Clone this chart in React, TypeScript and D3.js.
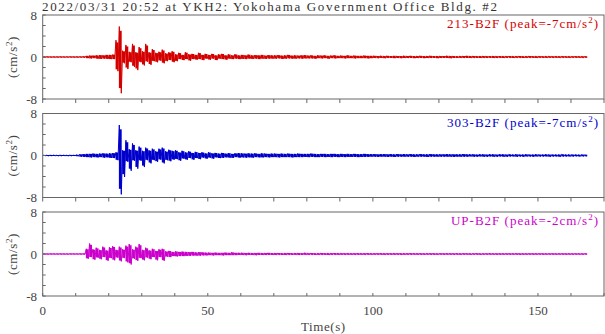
import React from 'react'
import * as d3 from 'd3'

// Envelope of each trace, one pair per second (t = 0 .. 164 s)
const redHi = [
  0.05, 0.05, 0.04, 0.05, 0.05, 0.06, 0.05, 0.05, 0.06, 0.05,
  0.06, 0.06, 0.08, 0.2, 0.25, 0.25, 0.3, 0.35, 0.3, 0.4,
  0.4, 0.45, 3.2, 5.8, 1.2, 2.3, 1.0, 2.5, 0.9, 1.9,
  1.1, 2.5, 0.9, 1.5, 0.8, 1.0, 1.4, 0.7, 0.9, 1.1,
  0.5, 0.8, 0.4, 0.9, 0.5, 0.6, 0.4, 0.8, 0.4, 0.6,
  0.4, 0.6, 0.3, 0.5, 0.6, 0.3, 0.5, 0.3, 0.5, 0.3,
  0.4, 0.3, 0.45, 0.3, 0.35, 0.3, 0.4, 0.25, 0.35, 0.3,
  0.3, 0.35, 0.25, 0.3, 0.4, 0.25, 0.3, 0.25, 0.3, 0.35,
  0.25, 0.3, 0.2, 0.3, 0.25, 0.3, 0.2, 0.25, 0.3, 0.2,
  0.25, 0.2, 0.3, 0.2, 0.25, 0.2, 0.2, 0.25, 0.2, 0.2,
  0.2, 0.15, 0.2, 0.15, 0.2, 0.15, 0.2, 0.15, 0.15, 0.2,
  0.15, 0.2, 0.15, 0.15, 0.2, 0.15, 0.15, 0.2, 0.15, 0.15,
  0.15, 0.15, 0.2, 0.15, 0.15, 0.12, 0.15, 0.15, 0.2, 0.15,
  0.15, 0.12, 0.15, 0.15, 0.12, 0.15, 0.15, 0.12, 0.15, 0.12,
  0.12, 0.15, 0.12, 0.12, 0.15, 0.12, 0.12, 0.15, 0.12, 0.12,
  0.12, 0.1, 0.12, 0.12, 0.1, 0.12, 0.1, 0.12, 0.1, 0.1,
  0.1, 0.12, 0.1, 0.1, 0.1,
]
const redLo = [
  -0.05, -0.04, -0.05, -0.05, -0.06, -0.05, -0.05, -0.05, -0.05, -0.06,
  -0.06, -0.06, -0.08, -0.2, -0.25, -0.2, -0.3, -0.35, -0.3, -0.35,
  -0.4, -0.4, -2.7, -6.9, -1.2, -2.3, -1.0, -1.9, -2.5, -1.0,
  -1.6, -0.9, -1.5, -0.8, -1.0, -0.7, -1.2, -0.8, -0.6, -1.0,
  -0.8, -0.4, -0.6, -0.4, -0.7, -0.4, -0.5, -0.4, -0.6, -0.3,
  -0.5, -0.3, -0.6, -0.3, -0.4, -0.5, -0.3, -0.4, -0.3, -0.4,
  -0.35, -0.4, -0.3, -0.35, -0.3, -0.4, -0.3, -0.35, -0.3, -0.3,
  -0.3, -0.25, -0.35, -0.3, -0.25, -0.3, -0.3, -0.25, -0.3, -0.25,
  -0.25, -0.25, -0.3, -0.2, -0.25, -0.2, -0.3, -0.2, -0.25, -0.2,
  -0.2, -0.25, -0.2, -0.2, -0.25, -0.2, -0.2, -0.2, -0.25, -0.2,
  -0.15, -0.2, -0.15, -0.2, -0.15, -0.15, -0.2, -0.15, -0.2, -0.15,
  -0.15, -0.15, -0.2, -0.15, -0.15, -0.2, -0.15, -0.15, -0.15, -0.2,
  -0.15, -0.15, -0.15, -0.2, -0.15, -0.15, -0.12, -0.15, -0.15, -0.15,
  -0.12, -0.15, -0.15, -0.12, -0.15, -0.12, -0.15, -0.15, -0.12, -0.15,
  -0.12, -0.12, -0.15, -0.12, -0.12, -0.15, -0.12, -0.12, -0.12, -0.15,
  -0.1, -0.12, -0.12, -0.1, -0.12, -0.1, -0.12, -0.1, -0.1, -0.12,
  -0.1, -0.1, -0.1, -0.12, -0.1,
]

const blueHi = [
  0.06, 0.05, 0.06, 0.06, 0.05, 0.06, 0.06, 0.05, 0.06, 0.06,
  0.1, 0.2, 0.25, 0.3, 0.3, 0.35, 0.3, 0.35, 0.4, 0.35,
  0.4, 0.45, 0.6, 5.8, 1.0, 2.9, 1.2, 2.3, 1.0, 1.7,
  0.9, 1.5, 1.0, 1.3, 0.8, 1.3, 1.5, 0.8, 1.1, 0.9,
  1.0, 0.6, 0.9, 0.6, 0.8, 0.5, 0.7, 0.5, 0.6, 0.4,
  0.6, 0.4, 0.5, 0.35, 0.5, 0.35, 0.45, 0.3, 0.4, 0.45,
  0.4, 0.35, 0.4, 0.35, 0.4, 0.3, 0.4, 0.35, 0.3, 0.35,
  0.35, 0.3, 0.35, 0.3, 0.35, 0.3, 0.3, 0.35, 0.3, 0.3,
  0.3, 0.35, 0.3, 0.25, 0.3, 0.3, 0.25, 0.3, 0.3, 0.25,
  0.3, 0.25, 0.3, 0.25, 0.3, 0.25, 0.25, 0.3, 0.25, 0.25,
  0.25, 0.2, 0.25, 0.25, 0.2, 0.25, 0.2, 0.25, 0.2, 0.25,
  0.2, 0.25, 0.2, 0.2, 0.25, 0.2, 0.2, 0.25, 0.2, 0.2,
  0.2, 0.2, 0.25, 0.2, 0.2, 0.2, 0.2, 0.25, 0.2, 0.2,
  0.2, 0.15, 0.2, 0.2, 0.15, 0.2, 0.2, 0.15, 0.2, 0.2,
  0.15, 0.2, 0.15, 0.2, 0.15, 0.15, 0.2, 0.15, 0.15, 0.2,
  0.15, 0.15, 0.2, 0.15, 0.15, 0.15, 0.15, 0.2, 0.15, 0.15,
  0.15, 0.15, 0.12, 0.15, 0.12,
]
const blueLo = [
  -0.05, -0.06, -0.06, -0.05, -0.06, -0.06, -0.05, -0.06, -0.06, -0.05,
  -0.1, -0.2, -0.25, -0.3, -0.35, -0.3, -0.35, -0.3, -0.4, -0.35,
  -0.45, -0.5, -0.9, -7.4, -4.1, -1.2, -2.9, -1.0, -2.5, -1.0,
  -2.2, -0.9, -1.5, -0.9, -1.2, -0.8, -1.5, -0.9, -1.1, -0.8,
  -0.7, -1.0, -0.6, -0.8, -0.5, -0.8, -0.5, -0.7, -0.4, -0.6,
  -0.4, -0.6, -0.35, -0.5, -0.45, -0.35, -0.4, -0.45, -0.3, -0.4,
  -0.35, -0.4, -0.35, -0.4, -0.3, -0.35, -0.35, -0.3, -0.35, -0.3,
  -0.3, -0.35, -0.3, -0.3, -0.3, -0.35, -0.3, -0.3, -0.3, -0.25,
  -0.3, -0.25, -0.3, -0.3, -0.25, -0.3, -0.25, -0.3, -0.25, -0.3,
  -0.25, -0.3, -0.25, -0.25, -0.25, -0.3, -0.25, -0.25, -0.25, -0.2,
  -0.2, -0.25, -0.2, -0.2, -0.25, -0.2, -0.25, -0.2, -0.2, -0.2,
  -0.2, -0.2, -0.25, -0.2, -0.2, -0.2, -0.25, -0.2, -0.2, -0.2,
  -0.2, -0.2, -0.2, -0.2, -0.25, -0.2, -0.2, -0.2, -0.2, -0.15,
  -0.2, -0.2, -0.15, -0.2, -0.2, -0.15, -0.2, -0.2, -0.15, -0.2,
  -0.2, -0.15, -0.15, -0.2, -0.15, -0.2, -0.15, -0.15, -0.2, -0.15,
  -0.15, -0.15, -0.15, -0.2, -0.15, -0.15, -0.2, -0.15, -0.15, -0.15,
  -0.15, -0.12, -0.15, -0.12, -0.12,
]

const upHi = [
  0.04, 0.04, 0.05, 0.04, 0.04, 0.05, 0.04, 0.04, 0.05, 0.04,
  0.04, 0.05, 0.05, 1.0, 2.0, 0.9, 1.2, 0.8, 1.4, 0.7,
  1.3, 1.5, 0.8, 1.4, 0.9, 1.6, 1.9, 0.9, 1.4, 1.9,
  0.8, 1.2, 0.7, 1.0, 0.6, 0.9, 1.0, 0.5, 0.6, 0.4,
  0.5, 0.4, 0.45, 0.4, 0.35, 0.4, 0.3, 0.35, 0.3, 0.25,
  0.25, 0.2, 0.25, 0.2, 0.2, 0.25, 0.2, 0.3, 0.2, 0.2,
  0.2, 0.15, 0.2, 0.15, 0.15, 0.2, 0.15, 0.15, 0.2, 0.15,
  0.15, 0.15, 0.12, 0.15, 0.15, 0.12, 0.15, 0.15, 0.12, 0.2,
  0.12, 0.15, 0.12, 0.12, 0.15, 0.12, 0.12, 0.12, 0.15, 0.12,
  0.12, 0.1, 0.12, 0.1, 0.1, 0.12, 0.1, 0.1, 0.12, 0.1,
  0.1, 0.1, 0.12, 0.1, 0.1, 0.1, 0.12, 0.1, 0.1, 0.1,
  0.1, 0.12, 0.1, 0.1, 0.1, 0.08, 0.1, 0.1, 0.1, 0.08,
  0.1, 0.08, 0.1, 0.1, 0.08, 0.1, 0.08, 0.1, 0.08, 0.08,
  0.08, 0.1, 0.08, 0.08, 0.08, 0.1, 0.08, 0.08, 0.08, 0.08,
  0.08, 0.08, 0.08, 0.1, 0.08, 0.08, 0.08, 0.08, 0.08, 0.08,
  0.08, 0.08, 0.07, 0.08, 0.08, 0.07, 0.08, 0.08, 0.07, 0.08,
  0.07, 0.08, 0.07, 0.07, 0.07,
]
const upLo = [
  -0.04, -0.05, -0.04, -0.04, -0.05, -0.04, -0.04, -0.05, -0.04, -0.04,
  -0.04, -0.05, -0.05, -0.9, -0.6, -1.1, -0.7, -1.0, -0.6, -1.3,
  -0.8, -1.2, -0.7, -1.4, -0.8, -1.6, -2.0, -0.9, -1.3, -0.8,
  -1.2, -0.7, -1.0, -0.6, -1.2, -0.6, -1.3, -0.5, -0.6, -0.4,
  -0.45, -0.4, -0.4, -0.35, -0.35, -0.3, -0.3, -0.3, -0.25, -0.25,
  -0.2, -0.25, -0.2, -0.2, -0.25, -0.2, -0.2, -0.2, -0.2, -0.15,
  -0.15, -0.2, -0.15, -0.15, -0.2, -0.15, -0.15, -0.15, -0.15, -0.15,
  -0.15, -0.12, -0.15, -0.15, -0.12, -0.15, -0.12, -0.15, -0.15, -0.12,
  -0.12, -0.12, -0.15, -0.12, -0.12, -0.12, -0.15, -0.12, -0.12, -0.12,
  -0.1, -0.12, -0.1, -0.1, -0.12, -0.1, -0.1, -0.12, -0.1, -0.1,
  -0.1, -0.1, -0.1, -0.12, -0.1, -0.1, -0.1, -0.1, -0.12, -0.1,
  -0.1, -0.1, -0.08, -0.1, -0.1, -0.1, -0.08, -0.1, -0.1, -0.1,
  -0.08, -0.1, -0.08, -0.08, -0.1, -0.08, -0.1, -0.08, -0.08, -0.1,
  -0.08, -0.08, -0.1, -0.08, -0.08, -0.08, -0.08, -0.1, -0.08, -0.08,
  -0.08, -0.08, -0.08, -0.08, -0.1, -0.08, -0.08, -0.08, -0.08, -0.08,
  -0.07, -0.08, -0.08, -0.07, -0.08, -0.08, -0.07, -0.08, -0.08, -0.07,
  -0.08, -0.07, -0.07, -0.08, -0.07,
]

const channelNames = ['213-B2F', '303-B2F', 'UP-B2F']
const channelPeaks = ['-7', '-7', '-2']
const channelColors = ['#d40000', '#0000cc', '#cc00cc']
const channelHi = [redHi, blueHi, upHi]
const channelLo = [redLo, blueLo, upLo]

const yTickLabels = [-8, 0, 8]
const xTickLabels = [0, 50, 100, 150]
const title = '2022/03/31 20:52 at YKH2: Yokohama Government Office Bldg. #2'

const W = 605
const H = 334
const left = 42.7
const right = 604
const panelTops = [15, 113.5, 212]
const panelH = 84
const font = '"Liberation Serif", "Times New Roman", serif'
const frameColor = '#666'
const textColor = '#444'

const x = d3.scaleLinear().domain([0, 170]).range([left, right])

function Panel({ idx }: { idx: number }) {
  const top = panelTops[idx]
  const y = d3.scaleLinear().domain([-8, 8]).range([top + panelH, top])
  const hi = channelHi[idx]
  const lo = channelLo[idx]
  const color = channelColors[idx]
  const binW = x(1) - x(0)

  // one min/max column per second, plus a zigzag through the extremes to break up the blocks
  const pts: [number, number][] = []
  hi.forEach((h, i) => {
    pts.push([i + 0.2, h])
    pts.push([i + 0.8, lo[i]])
  })
  const zigzag = d3.line<[number, number]>().x(d => x(d[0])).y(d => y(d[1]))

  const minorY = d3.range(-8, 9, 2)
  const minorX = d3.range(0, 171, 10)
  const lastPanel = idx === panelTops.length - 1
  return (
    <g>
      {hi.map((h, i) => (
        <line key={i} x1={x(i + 0.5)} x2={x(i + 0.5)} y1={y(h * 0.85) - 0.3} y2={y(lo[i] * 0.85) + 0.3}
          stroke={color} strokeWidth={binW * 0.85} />
      ))}
      <path d={zigzag(pts) || ''} fill="none" stroke={color} strokeWidth={1} strokeLinejoin="miter" />
      <rect x={left} y={top} width={right - left} height={panelH} fill="none" stroke={frameColor} strokeWidth={1} />
      {minorY.map(v => (
        <line key={'y' + v} x1={left} x2={left + 3} y1={y(v)} y2={y(v)} stroke={frameColor} />
      ))}
      {minorX.map(v => (
        <line key={'x' + v} x1={x(v)} x2={x(v)}
          y1={top + panelH} y2={lastPanel ? top + panelH - 3 : top + panelH + 4} stroke={frameColor} />
      ))}
      {yTickLabels.map(v => (
        <text key={'l' + v} x={37} y={y(v) + 4.5} textAnchor="end" fontSize={13} fill={textColor}>{v}</text>
      ))}
      <text transform={`translate(17,${y(0)}) rotate(-90)`} textAnchor="middle" fontSize={13} fill={textColor} letterSpacing={0.6}>
        (cm/s<tspan dy={-5} fontSize={9}>2</tspan><tspan dy={5}>)</tspan>
      </text>
      <text x={599} y={top + 13} textAnchor="end" fontSize={13} fill={color} letterSpacing={1}>
        {channelNames[idx]} (peak={channelPeaks[idx]}cm/s<tspan dy={-5} fontSize={9}>2</tspan><tspan dy={5}>)</tspan>
      </text>
    </g>
  )
}

export default function App() {
  return (
    <svg width={W} height={H} style={{ position: 'absolute', left: 0, top: 0, background: '#fff' }} fontFamily={font}>
      <text x={42} y={11} fontSize={13} fill="#333" textLength={455} lengthAdjust="spacing">{title}</text>
      {panelTops.map((_, i) => <Panel key={i} idx={i} />)}
      {xTickLabels.map(v => (
        <text key={v} x={x(v)} y={315} textAnchor="middle" fontSize={13} fill={textColor}>{v}</text>
      ))}
      <text x={(left + right) / 2} y={331} textAnchor="middle" fontSize={13} fill={textColor} letterSpacing={0.6}>Time(s)</text>
    </svg>
  )
}
